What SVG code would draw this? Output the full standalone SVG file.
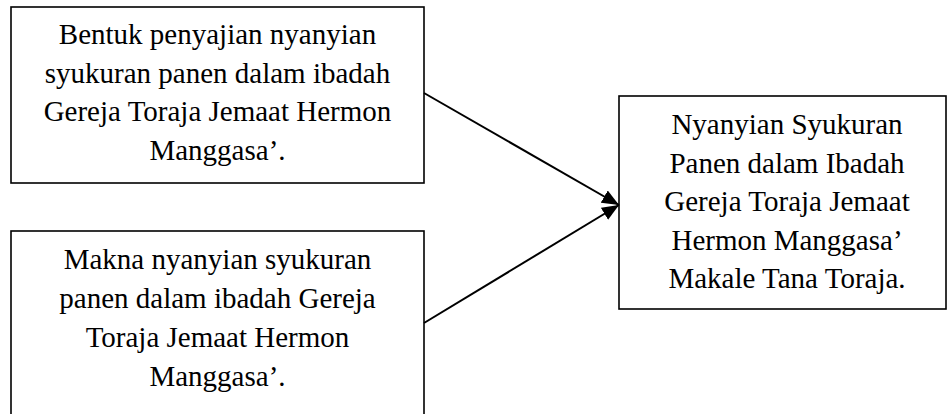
<svg xmlns="http://www.w3.org/2000/svg" width="952" height="414" viewBox="0 0 952 414">
<style>
.box{fill:#fff;stroke:#000;stroke-width:1.6}
.t{font-family:"Liberation Serif","Times New Roman",serif;font-size:29px;fill:#000;text-anchor:middle}
.c{stroke:#000;stroke-width:2;fill:none}
</style>
<defs>
<marker id="ah" markerWidth="17" markerHeight="14" refX="17" refY="7" orient="auto" markerUnits="userSpaceOnUse" viewBox="0 0 17 14">
<path d="M0,0 L17,7 L0,14 Z" fill="#000"/>
</marker>
</defs>
<rect width="952" height="414" fill="#fff"/>
<g id="node-bentuk">
<rect class="box" x="11" y="7" width="413" height="176"/>
<text class="t"><tspan x="217.5" y="44">Bentuk penyajian nyanyian</tspan><tspan x="217.5" y="82.5">syukuran panen dalam ibadah</tspan><tspan x="217.5" y="121">Gereja Toraja Jemaat Hermon</tspan><tspan x="217.5" y="159.5">Manggasa’.</tspan></text>
</g>
<g id="node-makna">
<rect class="box" x="11" y="231" width="413" height="190"/>
<text class="t"><tspan x="217.5" y="269">Makna nyanyian syukuran</tspan><tspan x="217.5" y="308">panen dalam ibadah Gereja</tspan><tspan x="217.5" y="347">Toraja Jemaat Hermon</tspan><tspan x="217.5" y="386">Manggasa’.</tspan></text>
</g>
<g id="node-nyanyian">
<rect class="box" x="619" y="96" width="327" height="213"/>
<text class="t"><tspan x="787" y="134">Nyanyian Syukuran</tspan><tspan x="787" y="172.5">Panen dalam Ibadah</tspan><tspan x="787" y="211">Gereja Toraja Jemaat</tspan><tspan x="787" y="249.5">Hermon Manggasa’</tspan><tspan x="787" y="288">Makale Tana Toraja.</tspan></text>
</g>
<g id="connectors">
<line class="c" x1="424" y1="93" x2="619" y2="205" marker-end="url(#ah)"/>
<line class="c" x1="424" y1="323" x2="619" y2="205" marker-end="url(#ah)"/>
</g>
</svg>
